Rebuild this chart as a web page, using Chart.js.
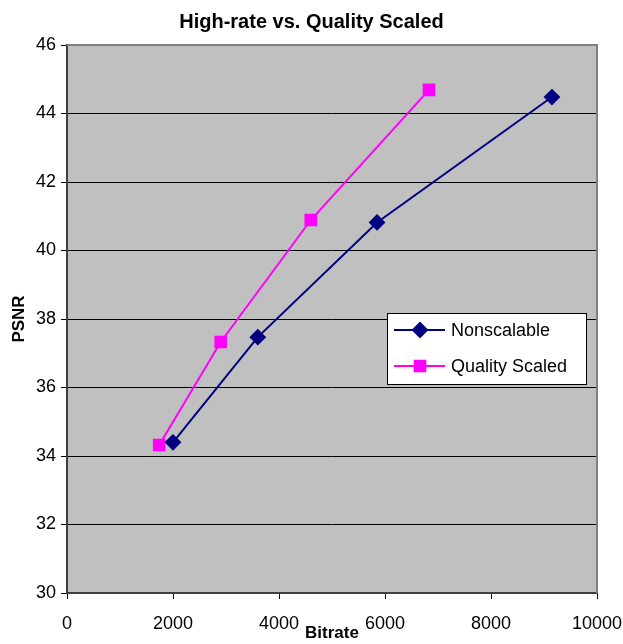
<!DOCTYPE html>
<html>
<head>
<meta charset="utf-8">
<script src="https://cdn.jsdelivr.net/npm/chart.js@4/dist/chart.umd.min.js"></script>
<style>
  html, body { margin: 0; padding: 0; background: #fff; }
  #wrap { width: 623px; height: 644px; }
</style>
</head>
<body>
<div id="wrap"><canvas id="psnr_chart" width="623" height="644"></canvas></div>
<script>
var seriesNames = ['Nonscalable', 'Quality Scaled'];
var nonscalableX = [2000, 3600, 5850, 9150];
var nonscalableY = [34.4, 37.47, 40.82, 44.48];
var qualityX = [1740, 2900, 4600, 6830];
var qualityY = [34.32, 37.33, 40.89, 44.69];
var yTicks = [30, 32, 34, 36, 38, 40, 42, 44, 46];
var xTicks = [0, 2000, 4000, 6000, 8000, 10000];

function toPoints(xs, ys) {
    var pts = [];
    for (var i = 0; i < xs.length; i++) pts.push({ x: xs[i], y: ys[i] });
    return pts;
}

var FONT = 'Arial, "Liberation Sans", sans-serif';

// grey plot background + frame
var plotBack = {
    id: 'plotBack',
    beforeDraw: function (chart) {
        var a = chart.chartArea, ctx = chart.ctx;
        ctx.save();
        ctx.fillStyle = '#C0C0C0';
        ctx.fillRect(a.left, a.top, a.right - a.left, a.bottom - a.top);
        ctx.restore();
    },
    afterDatasetsDraw: function (chart) {
        var a = chart.chartArea, ctx = chart.ctx;
        ctx.save();
        ctx.strokeStyle = '#808080';
        ctx.lineWidth = 2;
        ctx.beginPath();
        ctx.moveTo(a.left, a.top);
        ctx.lineTo(a.right, a.top);
        ctx.lineTo(a.right, a.bottom);
        ctx.stroke();
        ctx.restore();
    }
};

// legend box inside the plot area
var boxLegend = {
    id: 'boxLegend',
    afterDraw: function (chart) {
        var ctx = chart.ctx;
        var x0 = 387, y0 = 313, w = 199, h = 71;
        ctx.save();
        ctx.fillStyle = '#fff';
        ctx.fillRect(x0, y0, w, h);
        ctx.strokeStyle = '#000';
        ctx.lineWidth = 1;
        ctx.strokeRect(x0 + 0.5, y0 + 0.5, w, h);
        chart.data.datasets.forEach(function (ds, i) {
            var y = y0 + 17 + i * 36;
            ctx.strokeStyle = ds.borderColor;
            ctx.lineWidth = 2;
            ctx.beginPath();
            ctx.moveTo(x0 + 7, y);
            ctx.lineTo(x0 + 58, y);
            ctx.stroke();
            ctx.fillStyle = ds.pointBackgroundColor;
            ctx.strokeStyle = ds.pointBorderColor;
            Chart.helpers.drawPoint(ctx, {
                pointStyle: ds.pointStyle, radius: ds.pointRadius,
                rotation: 0, borderWidth: 1
            }, x0 + 33, y);
            ctx.fillStyle = '#000';
            ctx.font = '18px ' + FONT;
            ctx.textBaseline = 'middle';
            ctx.fillText(ds.label, x0 + 64, y + 1);
        });
        ctx.restore();
    }
};

var CHART = document.getElementById('psnr_chart').getContext('2d');
var psnr_chart = new Chart(CHART, {
    type: 'scatter',
    data: {
        datasets: [{
                label: seriesNames[0],
                data: toPoints(nonscalableX, nonscalableY),
                showLine: true,
                borderColor: '#000080',
                borderWidth: 2,
                pointStyle: 'rectRot',
                pointRadius: 7,
                pointBackgroundColor: '#000080',
                pointBorderColor: '#000080'
            },
            {
                label: seriesNames[1],
                data: toPoints(qualityX, qualityY),
                showLine: true,
                borderColor: '#FF00FF',
                borderWidth: 2,
                pointStyle: 'rect',
                pointRadius: 7.5,
                pointBackgroundColor: '#FF00FF',
                pointBorderColor: '#FF00FF'
            }
        ]
    },
    options: {
        responsive: false,
        animation: false,
        layout: { padding: { top: 0, right: 0, bottom: 0, left: 0 } },
        plugins: {
            legend: { display: false },
            tooltip: { enabled: false },
            title: {
                display: true,
                text: 'High-rate vs. Quality Scaled',
                color: '#000',
                font: { family: FONT, size: 20, weight: 'bold' },
                padding: { top: 10, bottom: 11 }
            }
        },
        scales: {
            x: {
                type: 'linear',
                min: 0,
                max: 10000,
                afterBuildTicks: function (s) { s.ticks = xTicks.map(function (v) { return { value: v }; }); },
                afterFit: function (s) { s.height = 51; s.paddingLeft = 0; s.paddingRight = 26; },
                ticks: {
                    color: '#000', font: { family: FONT, size: 18 }, padding: 14, maxRotation: 0,
                    callback: function (v) { return String(v); }
                },
                grid: { drawOnChartArea: false, color: '#000', tickLength: 6 },
                border: { color: '#404040', width: 2 },
                title: {
                    display: true, text: 'Bitrate', color: '#000',
                    font: { family: FONT, size: 17, weight: 'bold' },
                    padding: { top: 0, bottom: 0 }
                }
            },
            y: {
                min: 30,
                max: 46,
                afterBuildTicks: function (s) { s.ticks = yTicks.map(function (v) { return { value: v }; }); },
                afterFit: function (s) { s.width = 67; },
                ticks: { color: '#000', font: { family: FONT, size: 18 }, padding: 5 },
                grid: { color: '#000', lineWidth: 1, tickLength: 6 },
                border: { color: '#404040', width: 2 },
                title: {
                    display: true, text: 'PSNR', color: '#000',
                    font: { family: FONT, size: 17, weight: 'bold' },
                    padding: { top: 9, bottom: 8 }
                }
            }
        }
    },
    plugins: [plotBack, boxLegend]
});
</script>
</body>
</html>
